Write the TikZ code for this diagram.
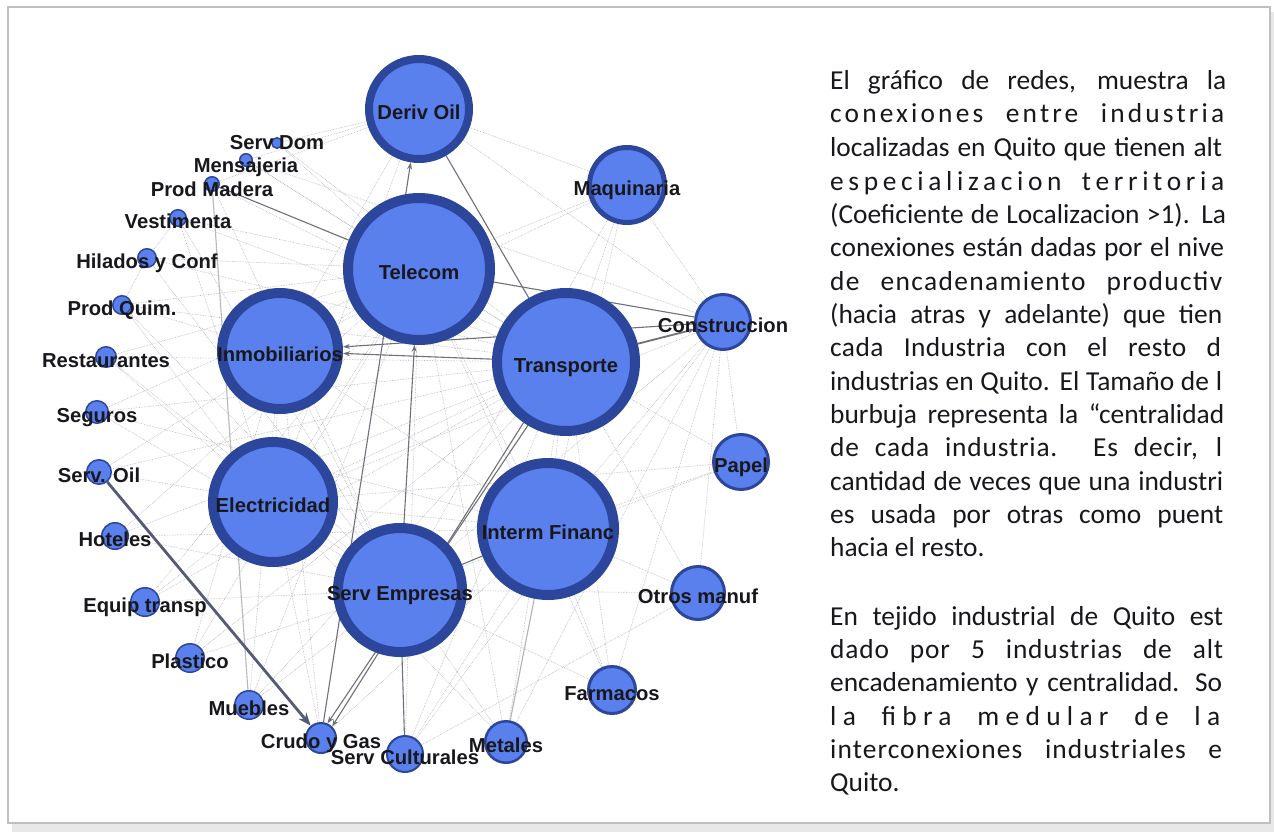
\documentclass[tikz,border=0pt]{standalone}
\usepackage{fontspec}
\newfontfamily\lblfont{Liberation Sans}
\newfontfamily\bodyfont{Carlito}
\usetikzlibrary{arrows.meta}
\pgfdeclarelayer{background}
\pgfsetlayers{background,main}
\definecolor{bubblefill}{RGB}{90,128,238}
\definecolor{bubblerim}{RGB}{44,70,155}
\definecolor{linkgray}{RGB}{112,112,122}
\definecolor{faintgray}{RGB}{178,178,184}
\definecolor{inkgray}{RGB}{24,24,28}
\begin{document}
\begin{tikzpicture}[x=1pt, y=-1pt,
            bubble/.style={circle, draw=bubblerim, fill=bubblefill, inner sep=0pt},
            lbl/.style={font=\lblfont\bfseries\fontsize{20.2}{23}\selectfont, text=inkgray, inner sep=0pt, text height=14.5pt, text depth=0pt, yshift=-3pt},
            link/.style={draw=linkgray, line width=1.1pt},
            faint/.style={draw=faintgray, densely dotted, line width=0.6pt},
            arr/.style={-{Stealth[length=7pt,width=5pt]}},
            txt/.style={anchor=base west, inner sep=0pt, text=inkgray, font=\bodyfont\fontsize{27.4}{33}\selectfont}
            ]
            \useasboundingbox (0,0) rectangle (1274,832);

            % big bubbles
            \node[bubble, minimum size=100pt, line width=8pt] (derivoil) at (419,109) {};
            \node[bubble, minimum size=142pt, line width=10pt] (telecom) at (419,269) {};
            \node[bubble, minimum size=75pt, line width=5pt] (maquinaria) at (627,185) {};
            \node[bubble, minimum size=55pt, line width=3pt] (construccion) at (723,322) {};
            \node[bubble, minimum size=138pt, line width=10pt] (transporte) at (566,362) {};
            \node[bubble, minimum size=116pt, line width=10pt] (inmobiliarios) at (280,351) {};
            \node[bubble, minimum size=120pt, line width=10pt] (electricidad) at (273,502) {};
            \node[bubble, minimum size=132pt, line width=10pt] (intermfinanc) at (548,529) {};
            \node[bubble, minimum size=124pt, line width=10pt] (servempresas) at (400,590) {};
            \node[bubble, minimum size=55pt, line width=3pt] (papel) at (741,462) {};
            \node[bubble, minimum size=53pt, line width=3pt] (otrosmanuf) at (698,593) {};
            \node[bubble, minimum size=47pt, line width=3pt] (farmacos) at (612,690) {};
            \node[bubble, minimum size=41.5pt, line width=2.5pt] (metales) at (506,742) {};
            \node[bubble, minimum size=36pt, line width=2pt] (servcult) at (405,754) {};
            \node[bubble, minimum size=30pt, line width=2pt] (crudo) at (321,738) {};
            % small bubbles on the left arc
            \node[bubble, minimum size=28.5pt, line width=1.5pt] (muebles) at (249,705) {};
            \node[bubble, minimum size=28.5pt, line width=1.5pt] (plastico) at (190,658) {};
            \node[bubble, minimum size=28.5pt, line width=1.5pt] (equiptransp) at (145,602) {};
            \node[bubble, minimum size=26.5pt, line width=1.5pt] (hoteles) at (115,536) {};
            \node[bubble, minimum size=24.5pt, line width=1.5pt] (servoil) at (99,472) {};
            \node[bubble, minimum size=22.5pt, line width=1.5pt] (seguros) at (97,412) {};
            \node[bubble, minimum size=20.5pt, line width=1.5pt] (restaurantes) at (106,357) {};
            \node[bubble, minimum size=18.5pt, line width=1.5pt] (prodquim) at (122,305) {};
            \node[bubble, minimum size=18.5pt, line width=1.5pt] (hilados) at (147,258) {};
            \node[bubble, minimum size=16.5pt, line width=1.5pt] (vestimenta) at (178,218) {};
            \node[bubble, minimum size=14.5pt, line width=1.5pt] (prodmadera) at (212,184) {};
            \node[bubble, minimum size=12.5pt, line width=1.5pt] (mensajeria) at (246,160) {};
            \node[bubble, minimum size=10.5pt, line width=1.5pt] (servdom) at (277,143) {};

            \begin{pgfonlayer}{background}
            % frame with shadow
            \fill[gray!18] (12,12) rectangle (1274,832);
            \fill[white] (8,7) rectangle (1270,823);
            \draw[gray!50, line width=1.2pt] (8,7) rectangle (1270,823);

            % weak links
            \foreach \a/\b in {derivoil/maquinaria, derivoil/construccion, derivoil/inmobiliarios, derivoil/servdom,
                derivoil/mensajeria, derivoil/electricidad, derivoil/prodmadera,
                maquinaria/telecom, maquinaria/transporte, maquinaria/construccion, maquinaria/intermfinanc,
                maquinaria/servempresas, maquinaria/inmobiliarios,
                construccion/intermfinanc, construccion/servempresas, construccion/electricidad, construccion/papel,
                construccion/otrosmanuf, construccion/farmacos, construccion/metales, construccion/servcult,
                construccion/mensajeria,
                papel/transporte, papel/servempresas, papel/intermfinanc, papel/electricidad,
                otrosmanuf/servcult, otrosmanuf/transporte, otrosmanuf/intermfinanc, otrosmanuf/servempresas,
                farmacos/servempresas, farmacos/transporte, farmacos/telecom, farmacos/intermfinanc,
                metales/transporte, metales/servempresas, metales/telecom, metales/electricidad,
                servcult/intermfinanc, servcult/telecom, servcult/transporte,
                crudo/electricidad, crudo/intermfinanc, crudo/inmobiliarios,
                muebles/servempresas, muebles/telecom, muebles/inmobiliarios, muebles/transporte,
                plastico/servempresas, plastico/telecom, plastico/inmobiliarios, plastico/transporte,
                equiptransp/servempresas, equiptransp/telecom, equiptransp/transporte, equiptransp/electricidad,
                hoteles/telecom, hoteles/servempresas, hoteles/intermfinanc, hoteles/transporte,
                servoil/electricidad, servoil/transporte, servoil/telecom,
                seguros/telecom, seguros/intermfinanc, seguros/servempresas, seguros/transporte,
                restaurantes/telecom, restaurantes/transporte, restaurantes/servempresas, restaurantes/electricidad,
                prodquim/telecom, prodquim/transporte, prodquim/servempresas, prodquim/electricidad, prodquim/inmobiliarios,
                hilados/telecom, hilados/vestimenta, hilados/servempresas, hilados/transporte, hilados/prodquim,
                vestimenta/telecom, vestimenta/transporte, vestimenta/servempresas, vestimenta/electricidad,
                prodmadera/transporte, prodmadera/servempresas,
                mensajeria/telecom, mensajeria/transporte, servdom/telecom, servdom/transporte,
                telecom/electricidad, telecom/intermfinanc, telecom/transporte,
                inmobiliarios/electricidad, inmobiliarios/intermfinanc, inmobiliarios/servempresas,
                electricidad/intermfinanc, electricidad/servempresas, electricidad/transporte,
                transporte/intermfinanc}
                \draw[faint] (\a) -- (\b);

            % strong links
            \draw[link, arr] (crudo) -- (derivoil);
            \draw[link, arr] (servempresas) -- (telecom);
            \draw[link] (prodmadera) -- (telecom);
            \draw[link] (telecom) -- (construccion);
            \draw[link] (derivoil) -- (transporte);
            \draw[link, line width=1.8pt, arr] (transporte) -- (construccion);
            \draw[link, arr] (transporte) -- (inmobiliarios);
            \draw[link, arr] (construccion) -- (inmobiliarios);
            \draw[link, arr] (transporte.235) -- (crudo.46);
            \draw[link, arr] (transporte.239) -- (crudo.66);
            \draw[link] (servempresas) -- (servcult);
            \draw[link] (intermfinanc) -- (servempresas);
            \draw[link, draw=gray!60] (intermfinanc) -- (metales);
            \draw[link, draw=gray!55] (prodmadera) -- (muebles);
            \draw[draw={rgb,255:red,85;green,90;blue,118}, line width=2.8pt,
                -{Stealth[length=13pt,width=10pt]}] (servoil) -- (crudo);
            \end{pgfonlayer}

            % labels
            \node[lbl] (derivoil-t) at (derivoil) {Deriv Oil};
            \node[lbl] (telecom-t) at (telecom) {Telecom};
            \node[lbl] (maquinaria-t) at (maquinaria) {Maquinaria};
            \node[lbl] (construccion-t) at (construccion) {Construccion};
            \node[lbl] (transporte-t) at (transporte) {Transporte};
            \node[lbl] (inmobiliarios-t) at (inmobiliarios) {Inmobiliarios};
            \node[lbl] (electricidad-t) at (electricidad) {Electricidad};
            \node[lbl] (intermfinanc-t) at (intermfinanc) {Interm Financ};
            \node[lbl] (servempresas-t) at (servempresas) {Serv Empresas};
            \node[lbl] (papel-t) at (papel) {Papel};
            \node[lbl] (otrosmanuf-t) at (otrosmanuf) {Otros manuf};
            \node[lbl] (farmacos-t) at (farmacos) {Farmacos};
            \node[lbl] (metales-t) at (metales) {Metales};
            \node[lbl] (servcult-t) at (servcult) {Serv Culturales};
            \node[lbl] (crudo-t) at (crudo) {Crudo y Gas};
            \node[lbl] (muebles-t) at (muebles) {Muebles};
            \node[lbl] (plastico-t) at (plastico) {Plastico};
            \node[lbl] (equiptransp-t) at (equiptransp) {Equip transp};
            \node[lbl] (hoteles-t) at (hoteles) {Hoteles};
            \node[lbl] (servoil-t) at (servoil) {Serv. Oil};
            \node[lbl] (seguros-t) at (seguros) {Seguros};
            \node[lbl] (restaurantes-t) at (restaurantes) {Restaurantes};
            \node[lbl] (prodquim-t) at (prodquim) {Prod Quim.};
            \node[lbl] (hilados-t) at (hilados) {Hilados y Conf};
            \node[lbl] (vestimenta-t) at (vestimenta) {Vestimenta};
            \node[lbl, yshift=-2pt] (prodmadera-t) at (prodmadera) {Prod Madera};
            \node[lbl, yshift=-2pt] (mensajeria-t) at (mensajeria) {Mensajeria};
            \node[lbl, yshift=4pt] (servdom-t) at (servdom) {Serv Dom};

            % text on the right
            \node[txt] (t1) at (830,90) {\makebox[396pt][s]{El gráfico de redes, muestra la}};
            \node[txt] (t2) at (830,123) {\addfontfeature{LetterSpace=11.5}\makebox[394pt][s]{conexiones entre industria}};
            \node[txt] (t3) at (830,156.5) {\makebox[392pt][s]{localizadas en Quito que tienen alt}};
            \node[txt] (t4) at (830,190) {\addfontfeature{LetterSpace=17}\makebox[394pt][s]{especializacion territoria}};
            \node[txt] (t5) at (830,223) {\makebox[396pt][s]{(Coeficiente de Localizacion >1). La}};
            \node[txt] (t6) at (830,256.5) {\makebox[394pt][s]{conexiones están dadas por el nive}};
            \node[txt] (t7) at (830,290) {\addfontfeature{LetterSpace=5}\makebox[392pt][s]{de encadenamiento productiv}};
            \node[txt] (t8) at (830,323) {\makebox[392pt][s]{(hacia atras y adelante) que tien}};
            \node[txt] (t9) at (830,356.5) {\addfontfeature{LetterSpace=1.5}\makebox[391pt][s]{cada Industria con el resto d}};
            \node[txt] (t10) at (830,390) {\makebox[392pt][s]{industrias en Quito. El Tamaño de l}};
            \node[txt] (t11) at (830,423) {\makebox[394pt][s]{burbuja representa la “centralidad}};
            \node[txt] (t12) at (830,456.5) {\addfontfeature{LetterSpace=3}\makebox[392pt][s]{de cada industria. Es decir, l}};
            \node[txt] (t13) at (830,490) {\makebox[393pt][s]{cantidad de veces que una industri}};
            \node[txt] (t14) at (830,523) {\makebox[393pt][s]{es usada por otras como puent}};
            \node[txt] (t15) at (830,556.5) {hacia el resto.};
            \node[txt] (t16) at (830,625) {\makebox[393pt][s]{En tejido industrial de Quito est}};
            \node[txt] (t17) at (830,658) {\addfontfeature{LetterSpace=3}\makebox[393pt][s]{dado por 5 industrias de alt}};
            \node[txt] (t18) at (830,691.5) {\makebox[392pt][s]{encadenamiento y centralidad. So}};
            \node[txt] (t19) at (830,725) {\addfontfeature{LetterSpace=23}\makebox[390pt][s]{la fibra medular de la}};
            \node[txt] (t20) at (830,758) {\addfontfeature{LetterSpace=4}\makebox[392pt][s]{interconexiones industriales e}};
            \node[txt] (t21) at (830,791.5) {Quito.};
            \end{tikzpicture}
\end{document}
